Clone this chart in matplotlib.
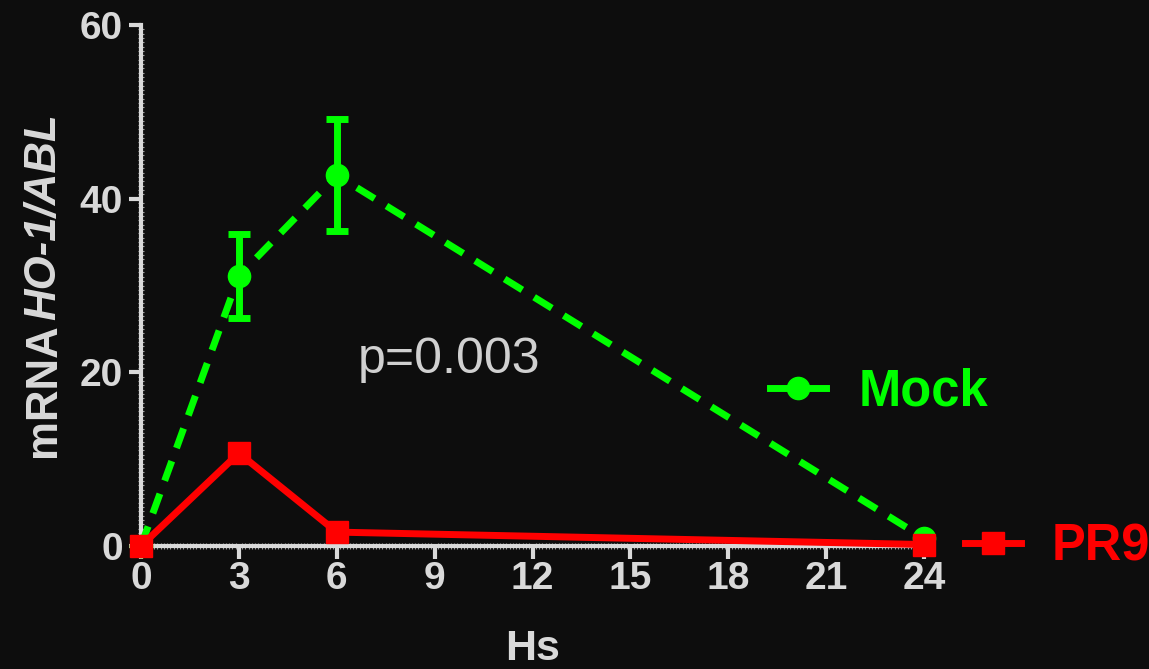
import matplotlib
matplotlib.use('Agg')
import matplotlib.pyplot as plt
from matplotlib.ticker import MultipleLocator
from matplotlib.lines import Line2D

# ---- data ----
hours = [0, 3, 6, 24]
mock = [0.0, 31.1, 42.7, 0.9]
mock_err = [0.0, 4.8, 6.45, 0.0]
mock_has_err = [False, True, True, False]
pr9 = [0.0, 10.7, 1.6, 0.17]
xticks = [0, 3, 6, 9, 12, 15, 18, 21, 24]
yticks = [0, 20, 40, 60]
series_names = ['Mock', 'PR9']
p_text = 'p=0.003'

BG = '#0d0d0d'
FG = '#d9d9d9'
GREEN = '#00ff00'
RED = '#ff0000'
FONT = 'Liberation Sans'

W, H = 1149, 669
fig = plt.figure(figsize=(W / 100, H / 100), dpi=100, facecolor=BG)
ax = fig.add_axes([141 / W, 1 - 546 / H, (924 - 141) / W, (546 - 25) / H])
ax.set_facecolor(BG)

# Mock (green dashed with error bars)
ax.errorbar(hours, mock, yerr=mock_err, errorevery=mock_has_err,
            color=GREEN, lw=5, dashes=(3, 2), marker='o', ms=16,
            ecolor=GREEN, elinewidth=5, capsize=8, capthick=5,
            clip_on=False, zorder=3)
# PR9 (red solid)
ax.plot(hours, pr9, color=RED, lw=5, marker='s', ms=16,
        clip_on=False, zorder=4)

ax.set_xlim(0, 24)
ax.set_ylim(0, 60)
ax.set_xticks(xticks)
ax.set_yticks(yticks)
ax.xaxis.set_minor_locator(MultipleLocator(0.1))
ax.yaxis.set_minor_locator(MultipleLocator(0.5))

for s in ['top', 'right']:
    ax.spines[s].set_visible(False)
for s in ['left', 'bottom']:
    ax.spines[s].set_color(FG)
    ax.spines[s].set_linewidth(3)

ax.tick_params(axis='both', which='major', direction='out', length=9,
               width=3, color=FG, labelcolor=FG, labelsize=28)
ax.tick_params(axis='y', which='major', pad=4)
ax.tick_params(axis='x', which='major', pad=2)
ax.tick_params(axis='both', which='minor', direction='inout', length=4,
               width=0.8, color='#a0a0a0')
for lab in ax.get_xticklabels() + ax.get_yticklabels():
    lab.set_fontfamily(FONT)
    lab.set_fontweight('bold')

ax.set_xlabel('Hs', fontsize=31, fontweight='bold', family=FONT,
              color=FG, labelpad=23)

# y label with italic part
fig.text(55 / W, 1 - 457 / H, 'mRNA', rotation=90, rotation_mode='anchor',
         ha='left', va='baseline', fontsize=31.5, fontweight='bold',
         family=FONT, color=FG)
fig.text(55 / W, 1 - 113 / H, 'HO-1/ABL', rotation=90, rotation_mode='anchor',
         ha='right', va='baseline', fontsize=31.5, fontweight='bold',
         fontstyle='italic', family=FONT, color=FG)

ax.text(6.65, 19.9, p_text, fontsize=36, family=FONT, color='#d0d0d0',
        ha='left', va='baseline')

# legends
prop = dict(family=FONT, weight='bold', size=36.5)
h1 = Line2D([], [], color=GREEN, lw=5, marker='o', ms=16)
leg1 = ax.legend([h1], [series_names[0]], loc='center left',
                 bbox_to_anchor=(770 / W, 1 - 392 / H),
                 bbox_transform=fig.transFigure, frameon=False, prop=prop,
                 labelcolor=GREEN, handlelength=1.1, handletextpad=0.64,
                 borderpad=0, borderaxespad=0, numpoints=1)
ax.add_artist(leg1)
h2 = Line2D([], [], color=RED, lw=5, marker='s', ms=16)
leg2 = ax.legend([h2], [series_names[1]], loc='center left',
                 bbox_to_anchor=(965 / W, 1 - 547 / H),
                 bbox_transform=fig.transFigure, frameon=False, prop=prop,
                 labelcolor=RED, handlelength=1.1, handletextpad=0.6,
                 borderpad=0, borderaxespad=0, numpoints=1)

fig.savefig('out.png', dpi=100, facecolor=BG)
